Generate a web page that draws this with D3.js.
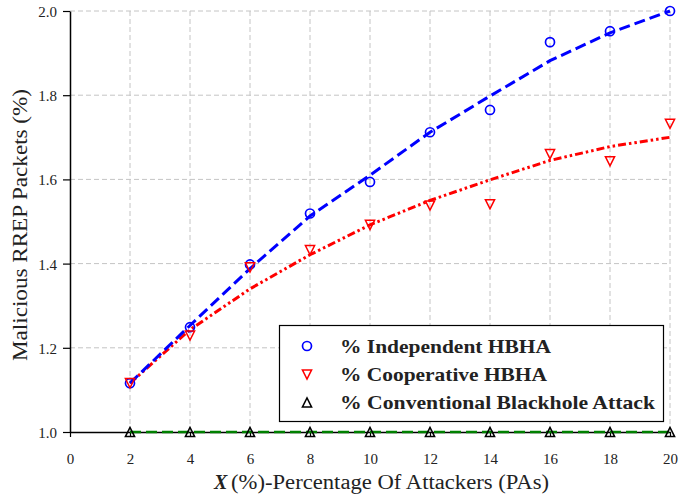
<!DOCTYPE html>
<html>
<head>
<meta charset="utf-8">
<script src="https://cdn.jsdelivr.net/npm/d3@7"></script>
<style>
  html, body { margin: 0; padding: 0; background: #fff; }
  svg { display: block; }
</style>
</head>
<body>
<svg id="chart" width="680" height="498"></svg>
<script>
// Percentage of attackers (x axis)
const attackers = [2, 4, 6, 8, 10, 12, 14, 16, 18, 20];

// Measured malicious RREP packets (%)
const independent  = [1.116, 1.249, 1.398, 1.519, 1.594, 1.712, 1.765, 1.926, 1.952, 2.000];
const cooperative  = [1.116, 1.229, 1.391, 1.432, 1.492, 1.538, 1.541, 1.660, 1.643, 1.732];
const conventional = [1.000, 1.000, 1.000, 1.000, 1.000, 1.000, 1.000, 1.000, 1.000, 1.000];

// Fitted trend values at each x
const independentFit = [1.116, 1.253, 1.388, 1.513, 1.610, 1.712, 1.798, 1.882, 1.948, 2.000];
const cooperativeFit = [1.116, 1.243, 1.340, 1.421, 1.492, 1.550, 1.599, 1.645, 1.678, 1.700];

const xTicks = [0, 2, 4, 6, 8, 10, 12, 14, 16, 18, 20];
const yTicks = [1.0, 1.2, 1.4, 1.6, 1.8, 2.0];

const legendLabels = [
  "% Independent HBHA",
  "% Cooperative HBHA",
  "% Conventional Blackhole Attack"
];

const serif = "'Liberation Serif', 'Times New Roman', serif";

const svg = d3.select("#chart");
const x = d3.scaleLinear().domain([0, 20]).range([70, 670]);
const y = d3.scaleLinear().domain([1, 2]).range([432, 11]);

// grid
const grid = svg.append("g")
  .attr("stroke", "#c4c4c4").attr("stroke-width", 1)
  .attr("stroke-dasharray", "5,3").attr("fill", "none");
xTicks.filter(d => d > 0).forEach(d => {
  grid.append("line").attr("x1", x(d)).attr("x2", x(d)).attr("y1", y(1)).attr("y2", y(2));
});
yTicks.filter(d => d > 1).forEach(d => {
  grid.append("line").attr("x1", x(0)).attr("x2", x(20)).attr("y1", y(d)).attr("y2", y(d));
});

// axes
const xAxis = svg.append("g")
  .attr("transform", `translate(0,${y(1)})`)
  .call(d3.axisBottom(x).tickValues(xTicks).tickFormat(d3.format("d")).tickSizeInner(5).tickSizeOuter(0).tickPadding(16));
const yAxis = svg.append("g")
  .attr("transform", `translate(${x(0)},0)`)
  .call(d3.axisLeft(y).tickValues(yTicks).tickFormat(d3.format(".1f")).tickSizeInner(7).tickSizeOuter(0).tickPadding(6));
[xAxis, yAxis].forEach(a => {
  a.select(".domain").attr("stroke", "#000").attr("stroke-width", 1.5);
  a.selectAll(".tick line").attr("stroke", "#000").attr("stroke-width", 1.2);
  a.selectAll(".tick text")
    .attr("font-family", serif).attr("font-size", 15).attr("fill", "#222");
});
yAxis.selectAll(".tick text").attr("dy", "0.36em");

// axis titles
svg.append("text")
  .attr("transform", "translate(27,361) rotate(-90)")
  .attr("font-family", serif).attr("font-size", 20).attr("fill", "#222")
  .attr("textLength", 272).attr("lengthAdjust", "spacingAndGlyphs")
  .text("Malicious RREP Packets (%)");

svg.append("text")
  .attr("x", 214).attr("y", 489)
  .attr("font-family", serif).attr("font-size", 20).attr("font-weight", "bold")
  .attr("font-style", "italic").attr("fill", "#222")
  .text("X");
svg.append("text")
  .attr("x", 231).attr("y", 489)
  .attr("font-family", serif).attr("font-size", 20).attr("fill", "#222")
  .attr("textLength", 318).attr("lengthAdjust", "spacingAndGlyphs")
  .text("(%)-Percentage Of Attackers (PAs)");

// fitted curves
const line = (vals) => d3.line()
  .x((d, i) => x(attackers[i]))
  .y(d => y(d))(vals);

svg.append("path").attr("d", line(conventional))
  .attr("fill", "none").attr("stroke", "#008000").attr("stroke-width", 2.6)
  .attr("stroke-dasharray", "11,5");
svg.append("path").attr("d", line(cooperativeFit))
  .attr("fill", "none").attr("stroke", "#ff0000").attr("stroke-width", 3)
  .attr("stroke-dasharray", "8,3,2.5,3,2.5,3");
svg.append("path").attr("d", line(independentFit))
  .attr("fill", "none").attr("stroke", "#0000ff").attr("stroke-width", 3)
  .attr("stroke-dasharray", "11,5");

// marker shapes
const s = 4.6;
const triDown = `M${-s},${-s}L${s},${-s}L0,${s}Z`;
const triUp = `M${-s},${s}L${s},${s}L0,${-s}Z`;

function circles(g, vals, color) {
  g.selectAll(null).data(vals).enter().append("circle")
    .attr("cx", (d, i) => x(attackers[i])).attr("cy", d => y(d)).attr("r", 4.5)
    .attr("fill", "none").attr("stroke", color).attr("stroke-width", 1.7);
}
function triangles(g, vals, color, shape) {
  g.selectAll(null).data(vals).enter().append("path")
    .attr("d", shape)
    .attr("transform", (d, i) => `translate(${x(attackers[i])},${y(d)})`)
    .attr("fill", "none").attr("stroke", color).attr("stroke-width", 1.5)
    .attr("stroke-linejoin", "miter");
}
const marks = svg.append("g");
circles(marks, independent, "#0000ff");
triangles(marks, cooperative, "#ff0000", triDown);
triangles(marks, conventional, "#000000", triUp);

// legend
const legend = svg.append("g");
legend.append("rect")
  .attr("x", 279.5).attr("y", 325.5).attr("width", 384).attr("height", 96)
  .attr("fill", "#fff").attr("stroke", "#000").attr("stroke-width", 1.2);
const rowY = [346, 374.5, 402.5];
const textW = [211, 207, 315];
legend.append("circle").attr("cx", 307).attr("cy", rowY[0]).attr("r", 4.5)
  .attr("fill", "none").attr("stroke", "#0000ff").attr("stroke-width", 1.7);
legend.append("path").attr("d", triDown).attr("transform", `translate(307,${rowY[1]})`)
  .attr("fill", "none").attr("stroke", "#ff0000").attr("stroke-width", 1.5);
legend.append("path").attr("d", triUp).attr("transform", `translate(307,${rowY[2]})`)
  .attr("fill", "none").attr("stroke", "#000").attr("stroke-width", 1.5);
legendLabels.forEach((t, i) => {
  legend.append("text")
    .attr("x", 340).attr("y", rowY[i] + 6.5)
    .attr("font-family", serif).attr("font-size", 19).attr("font-weight", "bold")
    .attr("fill", "#222")
    .attr("textLength", textW[i]).attr("lengthAdjust", "spacingAndGlyphs")
    .text(t);
});
</script>
</body>
</html>
